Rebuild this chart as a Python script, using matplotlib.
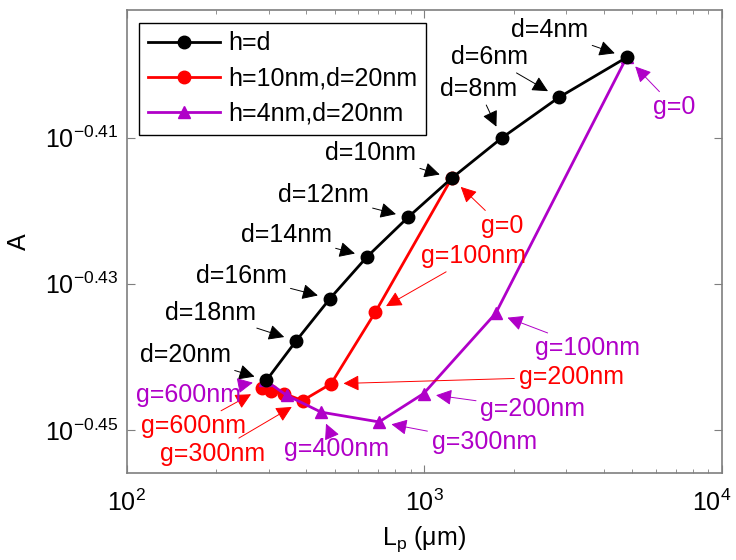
import numpy as np
import matplotlib
matplotlib.use("Agg")
import matplotlib.pyplot as plt
import matplotlib.transforms as mtransforms
from matplotlib.ticker import FixedLocator, NullLocator, LogLocator, NullFormatter

plt.rcParams['font.family'] = ['Liberation Sans', 'DejaVu Sans']
plt.rcParams['mathtext.fontset'] = 'custom'
plt.rcParams['mathtext.rm'] = 'Liberation Sans'
plt.rcParams['mathtext.it'] = 'Liberation Sans:italic'

# ---- data ----
black_d = [4, 6, 8, 10, 12, 14, 16, 18, 20]
black_L = [4780, 2830, 1820, 1236, 882, 642, 482, 371, 295]
black_A = [0.3990, 0.3940, 0.3890, 0.3841, 0.3794, 0.3747, 0.3698, 0.3649, 0.3604]

red_g = [0, 100, 200, 300, 400, 500, 600]
red_L = [1236, 684, 486, 390, 338, 305, 285]
red_A = [0.3841, 0.3682, 0.3600, 0.3581, 0.3589, 0.3592, 0.3595]

mag_g = [0, 100, 200, 300, 400, 500, 600]
mag_L = [4780, 1738, 995, 705, 450, 345, 292]
mag_A = [0.3990, 0.3681, 0.3589, 0.3557, 0.3568, 0.3587, 0.3604]

legend_labels = ['h=d', 'h=10nm,d=20nm', 'h=4nm,d=20nm']
ytick_exp = [-0.45, -0.43, -0.41]

RED = '#ff0000'
MAG = '#b000c8'
FS = 18

fig = plt.figure(figsize=(7.36, 5.6), dpi=100)
ax = fig.add_axes([0.172, 0.155, 0.809, 0.827])

ax.plot(black_L, black_A, '-o', color='k', lw=2, ms=9, label=legend_labels[0], zorder=3)
ax.plot(red_L, red_A, '-o', color=RED, lw=2, ms=9, label=legend_labels[1], zorder=2)
ax.plot(mag_L, mag_A, '-^', color=MAG, lw=2, ms=9, label=legend_labels[2], zorder=2)

ax.set_xscale('log')
ax.set_yscale('log')
ax.set_xlim(100, 10000)
ax.set_ylim(0.35, 0.405)

ax.xaxis.set_major_locator(FixedLocator([100, 1000, 10000]))
ax.set_xticklabels([r'$10^{2}$', r'$10^{3}$', r'$10^{4}$'])
ax.xaxis.set_minor_locator(LogLocator(base=10, subs=np.arange(2, 10)))
ax.xaxis.set_minor_formatter(NullFormatter())
ax.yaxis.set_major_locator(FixedLocator([10 ** e for e in ytick_exp]))
ax.set_yticklabels([r'$10^{%.2f}$' % e for e in ytick_exp])
ax.yaxis.set_minor_locator(NullLocator())

for s in ax.spines.values():
    s.set_color('#7f7f7f')
    s.set_linewidth(1.2)
ax.tick_params(which='both', direction='in', top=True, right=True, colors='#7f7f7f',
               labelcolor='k', labelsize=FS)
ax.tick_params(axis='x', which='major', pad=12)
ax.tick_params(axis='y', which='major', pad=6)
ax.tick_params(which='major', length=6)
ax.tick_params(which='minor', length=3)

# keep the last x tick label inside the figure
last = ax.get_xticklabels()[-1]
last.set_transform(last.get_transform() +
                   mtransforms.ScaledTranslation(-10 / 100, 0, fig.dpi_scale_trans))

ax.set_xlabel(r'L$_\mathrm{p}$ ($\mathrm{\mu}$m)', fontsize=FS, labelpad=6)
ax.set_ylabel('A', fontsize=FS, labelpad=10)

leg = ax.legend(loc='upper left', fontsize=FS, frameon=True, fancybox=False,
                edgecolor='k', framealpha=1, handlelength=2.9, borderpad=0.35,
                labelspacing=0.45, handletextpad=0.3, borderaxespad=0.5)
leg.get_frame().set_linewidth(1.0)


def note(text, x, y, dx, dy, color):
    ax.annotate(text, xy=(x, y), xytext=(dx, dy), textcoords='offset pixels',
                fontsize=FS, color=color, ha='center', va='center',
                arrowprops=dict(arrowstyle='-|>', color=color, lw=0.7,
                                mutation_scale=24, shrinkA=1, shrinkB=9),
                zorder=5)


black_off = [(-77, 27), (-69, 40), (-23, 49), (-81, 25), (-85, 22),
             (-81, 22), (-89, 23), (-86, 28), (-81, 25)]
for d, L, A, (dx, dy) in zip(black_d, black_L, black_A, black_off):
    note('d=%dnm' % d, L, A, dx, dy, 'k')

red_notes = {0: (50, -48), 100: (98, 56), 200: (240, 7), 300: (-90, -53), 600: (-69, -38)}
for g, L, A in zip(red_g, red_L, red_A):
    if g in red_notes:
        dx, dy = red_notes[g]
        note('g=0' if g == 0 else 'g=%dnm' % g, L, A, dx, dy, RED)

mag_notes = {0: (48, -50), 100: (92, -35), 200: (109, -15), 300: (105, -20),
             400: (16, -37), 600: (-77, -15)}
for g, L, A in zip(mag_g, mag_L, mag_A):
    if g in mag_notes:
        dx, dy = mag_notes[g]
        note('g=0' if g == 0 else 'g=%dnm' % g, L, A, dx, dy, MAG)

fig.savefig('out.png', dpi=100)
